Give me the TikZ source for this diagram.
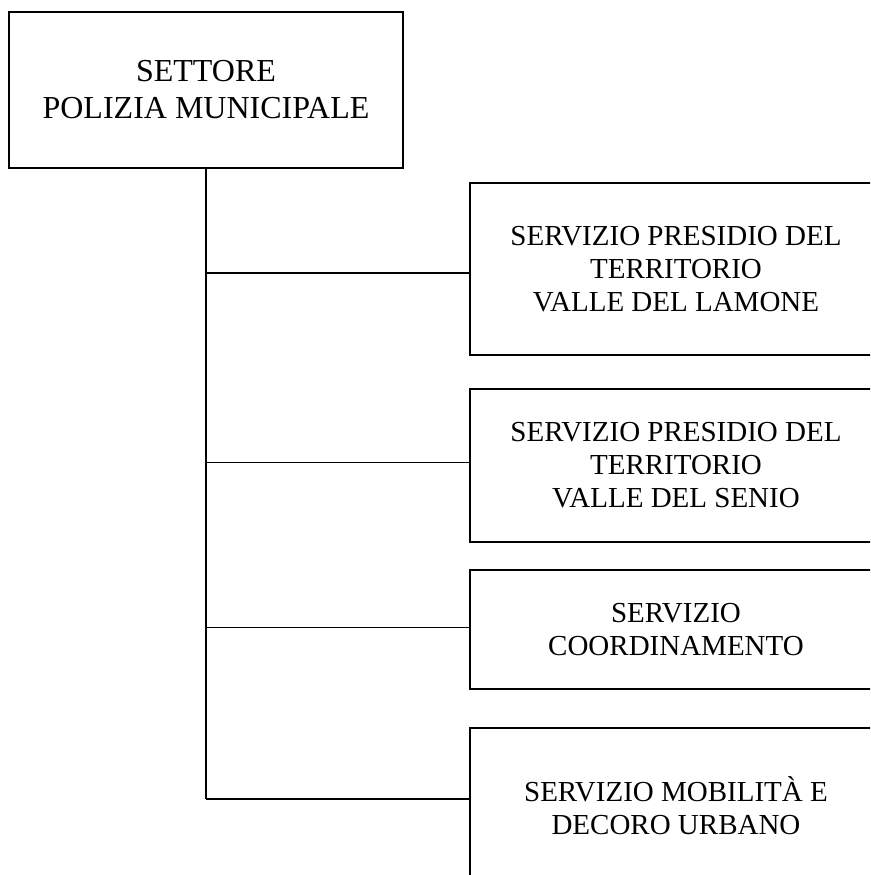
\documentclass[tikz,border=0pt]{standalone}
\usepackage{fontspec}
\setmainfont{Liberation Serif}
\usetikzlibrary{positioning}

\begin{document}
\begin{tikzpicture}[x=1pt,y=-1pt,
    capo/.style={draw, line width=1.3pt, minimum width=394pt, minimum height=156pt,
      align=center, font=\fontsize{32}{37}\selectfont},
    servizio/.style={draw, line width=1.3pt, minimum width=412pt,
      align=center, font=\fontsize{29}{33}\selectfont},
    ramo/.style={line width=1.5pt}]
      \useasboundingbox (0,0) rectangle (870,875);
      \clip (0,0) rectangle (870,875);
      \node[capo] (settore) at (206,90) {SETTORE\\POLIZIA MUNICIPALE};
      \node[servizio, minimum height=172pt] (lamone) at (676,269) {SERVIZIO PRESIDIO DEL\\TERRITORIO\\VALLE DEL LAMONE};
      \node[servizio, minimum height=153pt] (senio) at (676,465.5) {SERVIZIO PRESIDIO DEL\\TERRITORIO\\VALLE DEL SENIO};
      \node[servizio, minimum height=119pt] (coord) at (676,629.5) {SERVIZIO\\COORDINAMENTO};
      \node[servizio, minimum height=156pt] (mobilita) at (676,806) {SERVIZIO MOBILITÀ E\\DECORO URBANO};
      % punti d'attacco dei rami
      \coordinate (a1) at ([yshift=-4pt]lamone.west);
      \coordinate (a2) at ([yshift=3pt]senio.west);
      \coordinate (a3) at ([yshift=2pt]coord.west);
      \coordinate (a4) at ([yshift=7pt]mobilita.west);
      % linee di collegamento
      \draw[ramo] (settore.south) -- (settore.south |- a4);
      \foreach \a in {a1,a2,a3,a4}
        \draw[ramo] (settore.south |- \a) -- (\a);
    \end{tikzpicture}
\end{document}
